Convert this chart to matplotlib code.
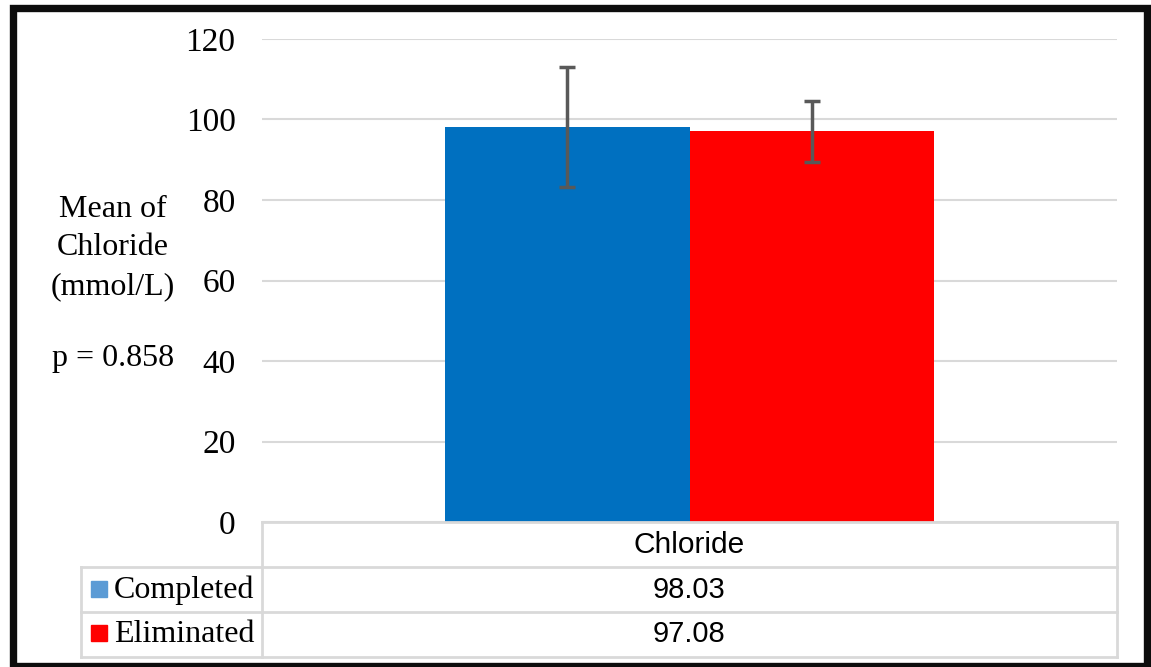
import matplotlib.pyplot as plt
from matplotlib.patches import Rectangle
from matplotlib.lines import Line2D

plt.rcParams['font.family'] = ['Liberation Serif', 'DejaVu Serif']

# data
category = "Chloride"
groups = ["Completed", "Eliminated"]
means = [98.03, 97.08]
sds = [14.9, 7.6]
bar_colors = ["#0070C0", "#FF0000"]
legend_colors = ["#5B9BD5", "#FF0000"]
yticks = [0, 20, 40, 60, 80, 100, 120]

W, H = 1151, 667
fig = plt.figure(figsize=(W / 100, H / 100), dpi=100)

def fx(px):
    return px / W

def fy(py):
    return 1 - py / H

# plot area in pixels
x0, x1, ytop, ybot = 262, 1117, 39, 522
ax = fig.add_axes([fx(x0), fy(ybot), fx(x1) - fx(x0), fy(ytop) - fy(ybot)])
ax.set_xlim(-0.5, 0.5)
ax.set_ylim(0, 120)

bw = 0.286
xs = [-bw / 2, bw / 2]
ax.bar(xs, means, width=bw, color=bar_colors, zorder=2)
ax.errorbar(xs, means, yerr=sds, fmt='none', ecolor='#595959', elinewidth=2.5,
            capsize=6, capthick=2.5, zorder=3)

ax.set_yticks(yticks)
ax.set_yticklabels([str(t) for t in yticks], fontsize=24)
ax.tick_params(axis='y', length=0, pad=19)
ax.set_xticks([])
ax.grid(axis='y', color='#D9D9D9', lw=1.5, zorder=0)
for s in ax.spines.values():
    s.set_visible(False)

# y label and p value
fig.text(fx(113), fy(248), "Mean of\nChloride\n(mmol/L)", ha='center', va='center',
         fontsize=23, linespacing=1.42)
fig.text(fx(113), fy(358), "p = 0.858", ha='center', va='center', fontsize=23)

# data table
gc = '#D9D9D9'
def hline(y, xa, xb):
    fig.add_artist(Line2D([fx(xa), fx(xb)], [fy(y), fy(y)], color=gc, lw=2))

def vline(x, ya, yb):
    fig.add_artist(Line2D([fx(x), fx(x)], [fy(ya), fy(yb)], color=gc, lw=2))

hline(522, 262, 1117)
for y in (567, 612, 657):
    hline(y, 81, 1117)
vline(262, 522, 657)
vline(1117, 522, 657)
vline(81, 567, 657)

xc = (x0 + x1) / 2
fig.text(fx(xc), fy(545), category, ha='center', va='center', fontsize=21.5,
         family=['Liberation Sans', 'DejaVu Sans'])
rows_y = [590, 634]
for g, m, c, ry in zip(groups, means, legend_colors, rows_y):
    fig.add_artist(Rectangle((fx(91), fy(ry + 7)), fx(16), 16 / H, color=c))
    fig.text(fx(114), fy(ry), g, ha='left', va='center', fontsize=23)
    fig.text(fx(xc), fy(ry), f"{m:.2f}", ha='center', va='center', fontsize=21,
             family=['Liberation Sans', 'DejaVu Sans'])

# outer border
fig.add_artist(Rectangle((fx(12.5), fy(665.5)), fx(1147 - 12.5), (665.5 - 8) / H,
                         fill=False, ec='#0D0D0D', lw=5.3))

fig.savefig("out.png", dpi=100)
